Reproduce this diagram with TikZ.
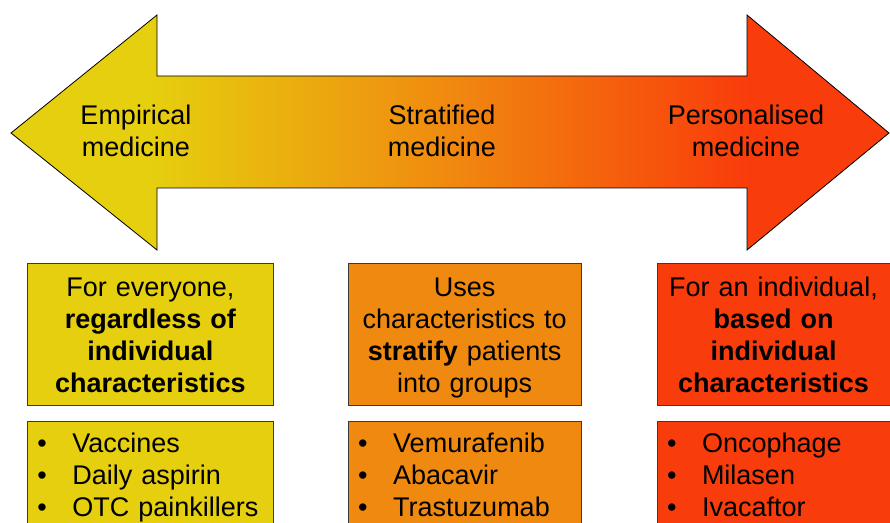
\documentclass[tikz,border=0pt]{standalone}
\usepackage{fontspec}
\setmainfont{Liberation Sans}
\usetikzlibrary{positioning}
\definecolor{empyel}{HTML}{E6CF0E}
\definecolor{strora}{HTML}{F0890F}
\definecolor{perred}{HTML}{F93C0B}
\definecolor{edge}{HTML}{3A3A3A}
% the path fills the middle half (25bp to 75bp) of the shading
\pgfdeclarehorizontalshading{spectrum}{100bp}{color(0bp)=(empyel); color(33bp)=(empyel); color(50bp)=(strora); color(67bp)=(perred); color(100bp)=(perred)}
\newcommand{\pill}[1]{\makebox[35pt][l]{\textbullet}#1}

\begin{document}
\begin{tikzpicture}[x=1pt,y=1pt,font=\fontsize{27}{32}\selectfont,
  headbox/.style={draw=edge,line width=0.8pt,text width=#1,inner xsep=0pt,inner ysep=0pt,minimum height=142pt,align=center,
    execute at begin node={\rule{0pt}{26pt}},execute at end node={\rule[-6pt]{0pt}{6pt}}},
  listbox/.style={draw=edge,line width=0.8pt,text width=#1,inner xsep=10pt,inner ysep=12pt,align=left,
    execute at end node={\rule[-30pt]{0pt}{1pt}}}]
  \useasboundingbox (0,0) rectangle (890,522);
  % double arrow, yellow to red
  \draw[black,line width=0.8pt,shading=spectrum]
    (11,389) -- (157,507) -- (157,446) -- (747,446) -- (747,507) -- (889,389)
    -- (747,272) -- (747,334) -- (157,334) -- (157,272) -- cycle;
  \node[align=center] (emplab) at (136,391) {Empirical\\medicine};
  \node[align=center] (strlab) at (442,391) {Stratified\\medicine};
  \node[align=center] (perlab) at (746,391) {Personalised\\medicine};
  % what each one means
  \node[headbox=246pt,fill=empyel,anchor=north west] (emp) at (27,259) {For everyone,\\\textbf{regardless of}\\\textbf{individual}\\\textbf{characteristics}};
  \node[headbox=233pt,fill=strora,right=74pt of emp] (str) {Uses\\characteristics to\\\textbf{stratify} patients\\into groups};
  \node[headbox=233pt,fill=perred,right=75pt of str] (per) {For an individual,\\\textbf{based on}\\\textbf{individual}\\\textbf{characteristics}};
  % examples
  \node[listbox=226pt,fill=empyel,below=15pt of emp] (emplist) {\pill{Vaccines}\\\pill{Daily aspirin}\\\pill{OTC painkillers}};
  \node[listbox=213pt,fill=strora,below=15pt of str] (strlist) {\pill{Vemurafenib}\\\pill{Abacavir}\\\pill{Trastuzumab}};
  \node[listbox=213pt,fill=perred,below=15pt of per] (perlist) {\pill{Oncophage}\\\pill{Milasen}\\\pill{Ivacaftor}};
\end{tikzpicture}
\end{document}
